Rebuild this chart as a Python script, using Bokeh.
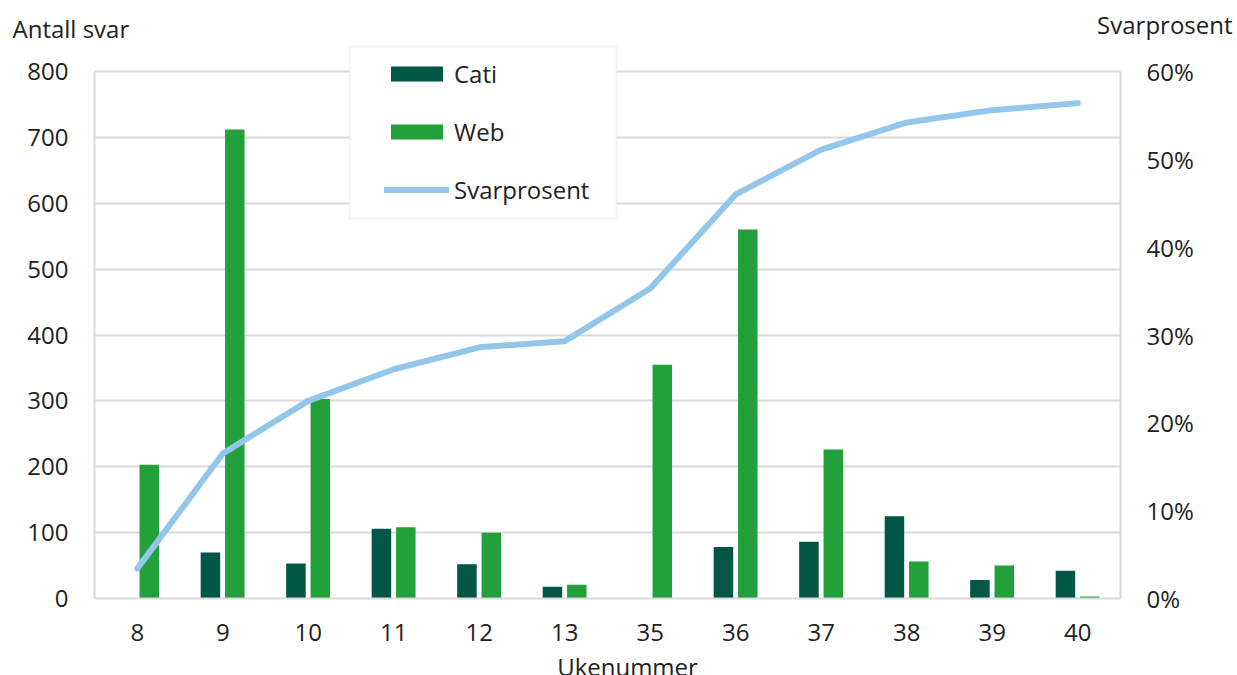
from bokeh.plotting import figure
from bokeh.layouts import column
from bokeh.models import (ColumnDataSource, FactorRange, Range1d, LinearAxis, FixedTicker,
                          NumeralTickFormatter, Label, BoxAnnotation, Legend, LegendItem)
from bokeh.transform import dodge
from bokeh.embed import file_html
from bokeh.resources import INLINE

# ---- data ----
weeks = ["8", "9", "10", "11", "12", "13", "35", "36", "37", "38", "39", "40"]
cati = [0, 70, 53, 106, 52, 18, 0, 78, 86, 125, 28, 42]
web = [203, 712, 303, 108, 100, 21, 355, 560, 226, 56, 50, 3]
svarprosent = [0.034, 0.165, 0.225, 0.261, 0.286, 0.293, 0.353, 0.460, 0.511, 0.542, 0.556, 0.564]
left_ticks = [0, 100, 200, 300, 400, 500, 600, 700, 800]
right_ticks = [0, 0.1, 0.2, 0.3, 0.4, 0.5, 0.6]

FONT = "Open Sans"
FS = "24px"
TXT = "#222222"
GRID = "#D9D9D9"

W = 1237
TOP_H = 45
BOT_H = 19
MAIN_H = 675 - TOP_H - BOT_H
ABOVE = 71 - TOP_H          # blank frame space above the 800 line
FRAME_H = 527 + ABOVE
y_max = 800 * FRAME_H / 527
pct_max = 0.6 * FRAME_H / 527


def strip(h):
    f = figure(width=W, height=h, x_axis_location=None, y_axis_location=None,
               toolbar_location=None, output_backend="svg", min_border=0,
               min_border_left=0, min_border_right=0, min_border_top=0, min_border_bottom=0,
               outline_line_color=None, x_range=Range1d(0, 1), y_range=Range1d(0, 1))
    f.grid.visible = False
    f.frame_align = False
    return f


# ---- top strip with the two axis titles ----
top = strip(TOP_H)
top.add_layout(Label(x=12, y=17, x_units="screen", y_units="screen", text="Antall svar",
                     text_font=FONT, text_font_size=FS, text_color=TXT,
                     text_baseline="alphabetic", text_align="left"))
top.add_layout(Label(x=1232, y=21, x_units="screen", y_units="screen", text="Svarprosent",
                     text_font=FONT, text_font_size=FS, text_color=TXT,
                     text_baseline="alphabetic", text_align="right"))

# ---- bottom strip with the x axis title ----
bot = strip(BOT_H)
bot.add_layout(Label(x=627, y=9, x_units="screen", y_units="screen", text="Ukenummer",
                     text_font=FONT, text_font_size=FS, text_color=TXT,
                     text_baseline="alphabetic", text_align="center"))

# ---- main chart ----
src = ColumnDataSource(dict(weeks=weeks, cati=cati, web=web, pct=svarprosent))

p = figure(width=W, height=MAIN_H, x_range=FactorRange(*weeks), y_range=Range1d(0, y_max),
           output_backend="svg", toolbar_location=None, title=None,
           min_border_left=94, min_border_right=117, min_border_top=0,
           min_border_bottom=MAIN_H - FRAME_H)
p.frame_align = False
p.extra_y_ranges = {"pct": Range1d(0, pct_max)}

right_axis = LinearAxis(y_range_name="pct", ticker=FixedTicker(ticks=right_ticks),
                        formatter=NumeralTickFormatter(format="0%"), bounds=(0, 0.6))
p.add_layout(right_axis, "right")
p.yaxis[0].ticker = FixedTicker(ticks=left_ticks)
p.yaxis[0].bounds = (0, 800)

for ax in [p.yaxis[0], right_axis, p.xaxis[0]]:
    ax.axis_line_color = GRID
    ax.axis_line_width = 2
    ax.major_tick_line_color = None
    ax.minor_tick_line_color = None
    ax.major_tick_in = 0
    ax.major_tick_out = 0
    ax.major_label_text_font = FONT
    ax.major_label_text_font_size = FS
    ax.major_label_text_color = TXT
    ax.major_label_standoff = 26
p.xaxis[0].major_label_standoff = 25

p.xgrid.visible = False
p.ygrid.grid_line_color = GRID
p.ygrid.grid_line_width = 2
p.outline_line_color = None
p.background_fill_color = "white"

r_cati = p.vbar(x=dodge("weeks", -0.144, range=p.x_range), top="cati", width=0.228,
                source=src, fill_color="#005746", line_color=None)
r_web = p.vbar(x=dodge("weeks", 0.141, range=p.x_range), top="web", width=0.228,
               source=src, fill_color="#22A03A", line_color=None)
r_line = p.line(x="weeks", y="pct", y_range_name="pct", source=src, line_color="#93C6EB",
                line_width=6, line_cap="round", line_join="round")

box = BoxAnnotation(left=255, right=522, top=552, bottom=380,
                    left_units="screen", right_units="screen", top_units="screen", bottom_units="screen",
                    fill_color="white", fill_alpha=1, line_color=GRID, line_width=2)
p.add_layout(box)

legend = Legend(items=[LegendItem(label="Cati", renderers=[r_cati]),
                       LegendItem(label="Web", renderers=[r_web]),
                       LegendItem(label="Svarprosent", renderers=[r_line])],
                location=(290, 392), orientation="vertical", padding=0, margin=0, spacing=25,
                glyph_width=65, glyph_height=19, label_height=19, label_standoff=5,
                label_text_font=FONT, label_text_font_size=FS, label_text_color=TXT,
                border_line_color=None, background_fill_alpha=0)
p.add_layout(legend)

layout = column(top, p, bot, spacing=0)
open("out.html", "w").write(file_html(layout, INLINE))
